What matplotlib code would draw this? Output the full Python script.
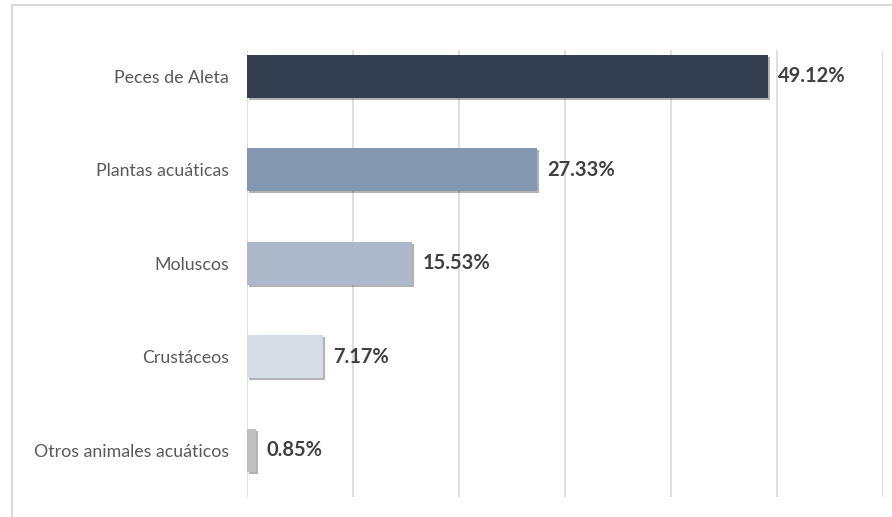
import matplotlib.pyplot as plt
import matplotlib.patheffects as pe
from matplotlib.patches import Rectangle
import numpy as np

plt.rcParams['font.family'] = ['Lato', 'DejaVu Sans']

categorias = ["Peces de Aleta", "Plantas acuáticas", "Moluscos",
              "Crustáceos", "Otros animales acuáticos"]
porcentajes = [49.12, 27.33, 15.53, 7.17, 0.85]
colores = ["#333F50", "#8497B0", "#ADB9CA", "#D6DCE5", "#BFBFBF"]

W, H = 892, 517
fig = plt.figure(figsize=(W / 100, H / 100), dpi=100)

# light outer frame, open on the right and bottom
fig.patches.append(Rectangle((12 / W, -0.1), 1.2, 1 - 5 / H + 0.1,
                             transform=fig.transFigure, fill=False,
                             edgecolor="#D9D9D9", linewidth=1.5))

ax = fig.add_axes([247 / W, 20 / H, (883 - 247) / W, (467 - 20) / H])

y = np.arange(len(categorias))
sombra = [pe.SimplePatchShadow(offset=(1.5, -1.5), shadow_rgbFace="#000000",
                               alpha=0.3), pe.Normal()]
barras = ax.barh(y, porcentajes, height=0.46, color=colores, zorder=3)
for b in barras:
    b.set_path_effects(sombra)

for yi, v in zip(y, porcentajes):
    ax.text(v + 1.0, yi, f"{v:.2f}%", va="center", ha="left",
            fontsize=14.5, fontweight="bold", color="#404040")

ax.set_xlim(0, 60)
ax.set_ylim(4.5, -0.28)
ax.set_xticks(np.arange(0, 61, 10))
ax.set_yticks(y)
ax.set_yticklabels(categorias, fontsize=12.8, color="#595959")
ax.tick_params(axis="y", length=0, pad=13)
ax.tick_params(axis="x", length=0, labelbottom=False)
ax.grid(axis="x", color="#D9D9D9", linewidth=1.2, zorder=0)
for s in ax.spines.values():
    s.set_visible(False)

fig.savefig("out.png", dpi=100)
